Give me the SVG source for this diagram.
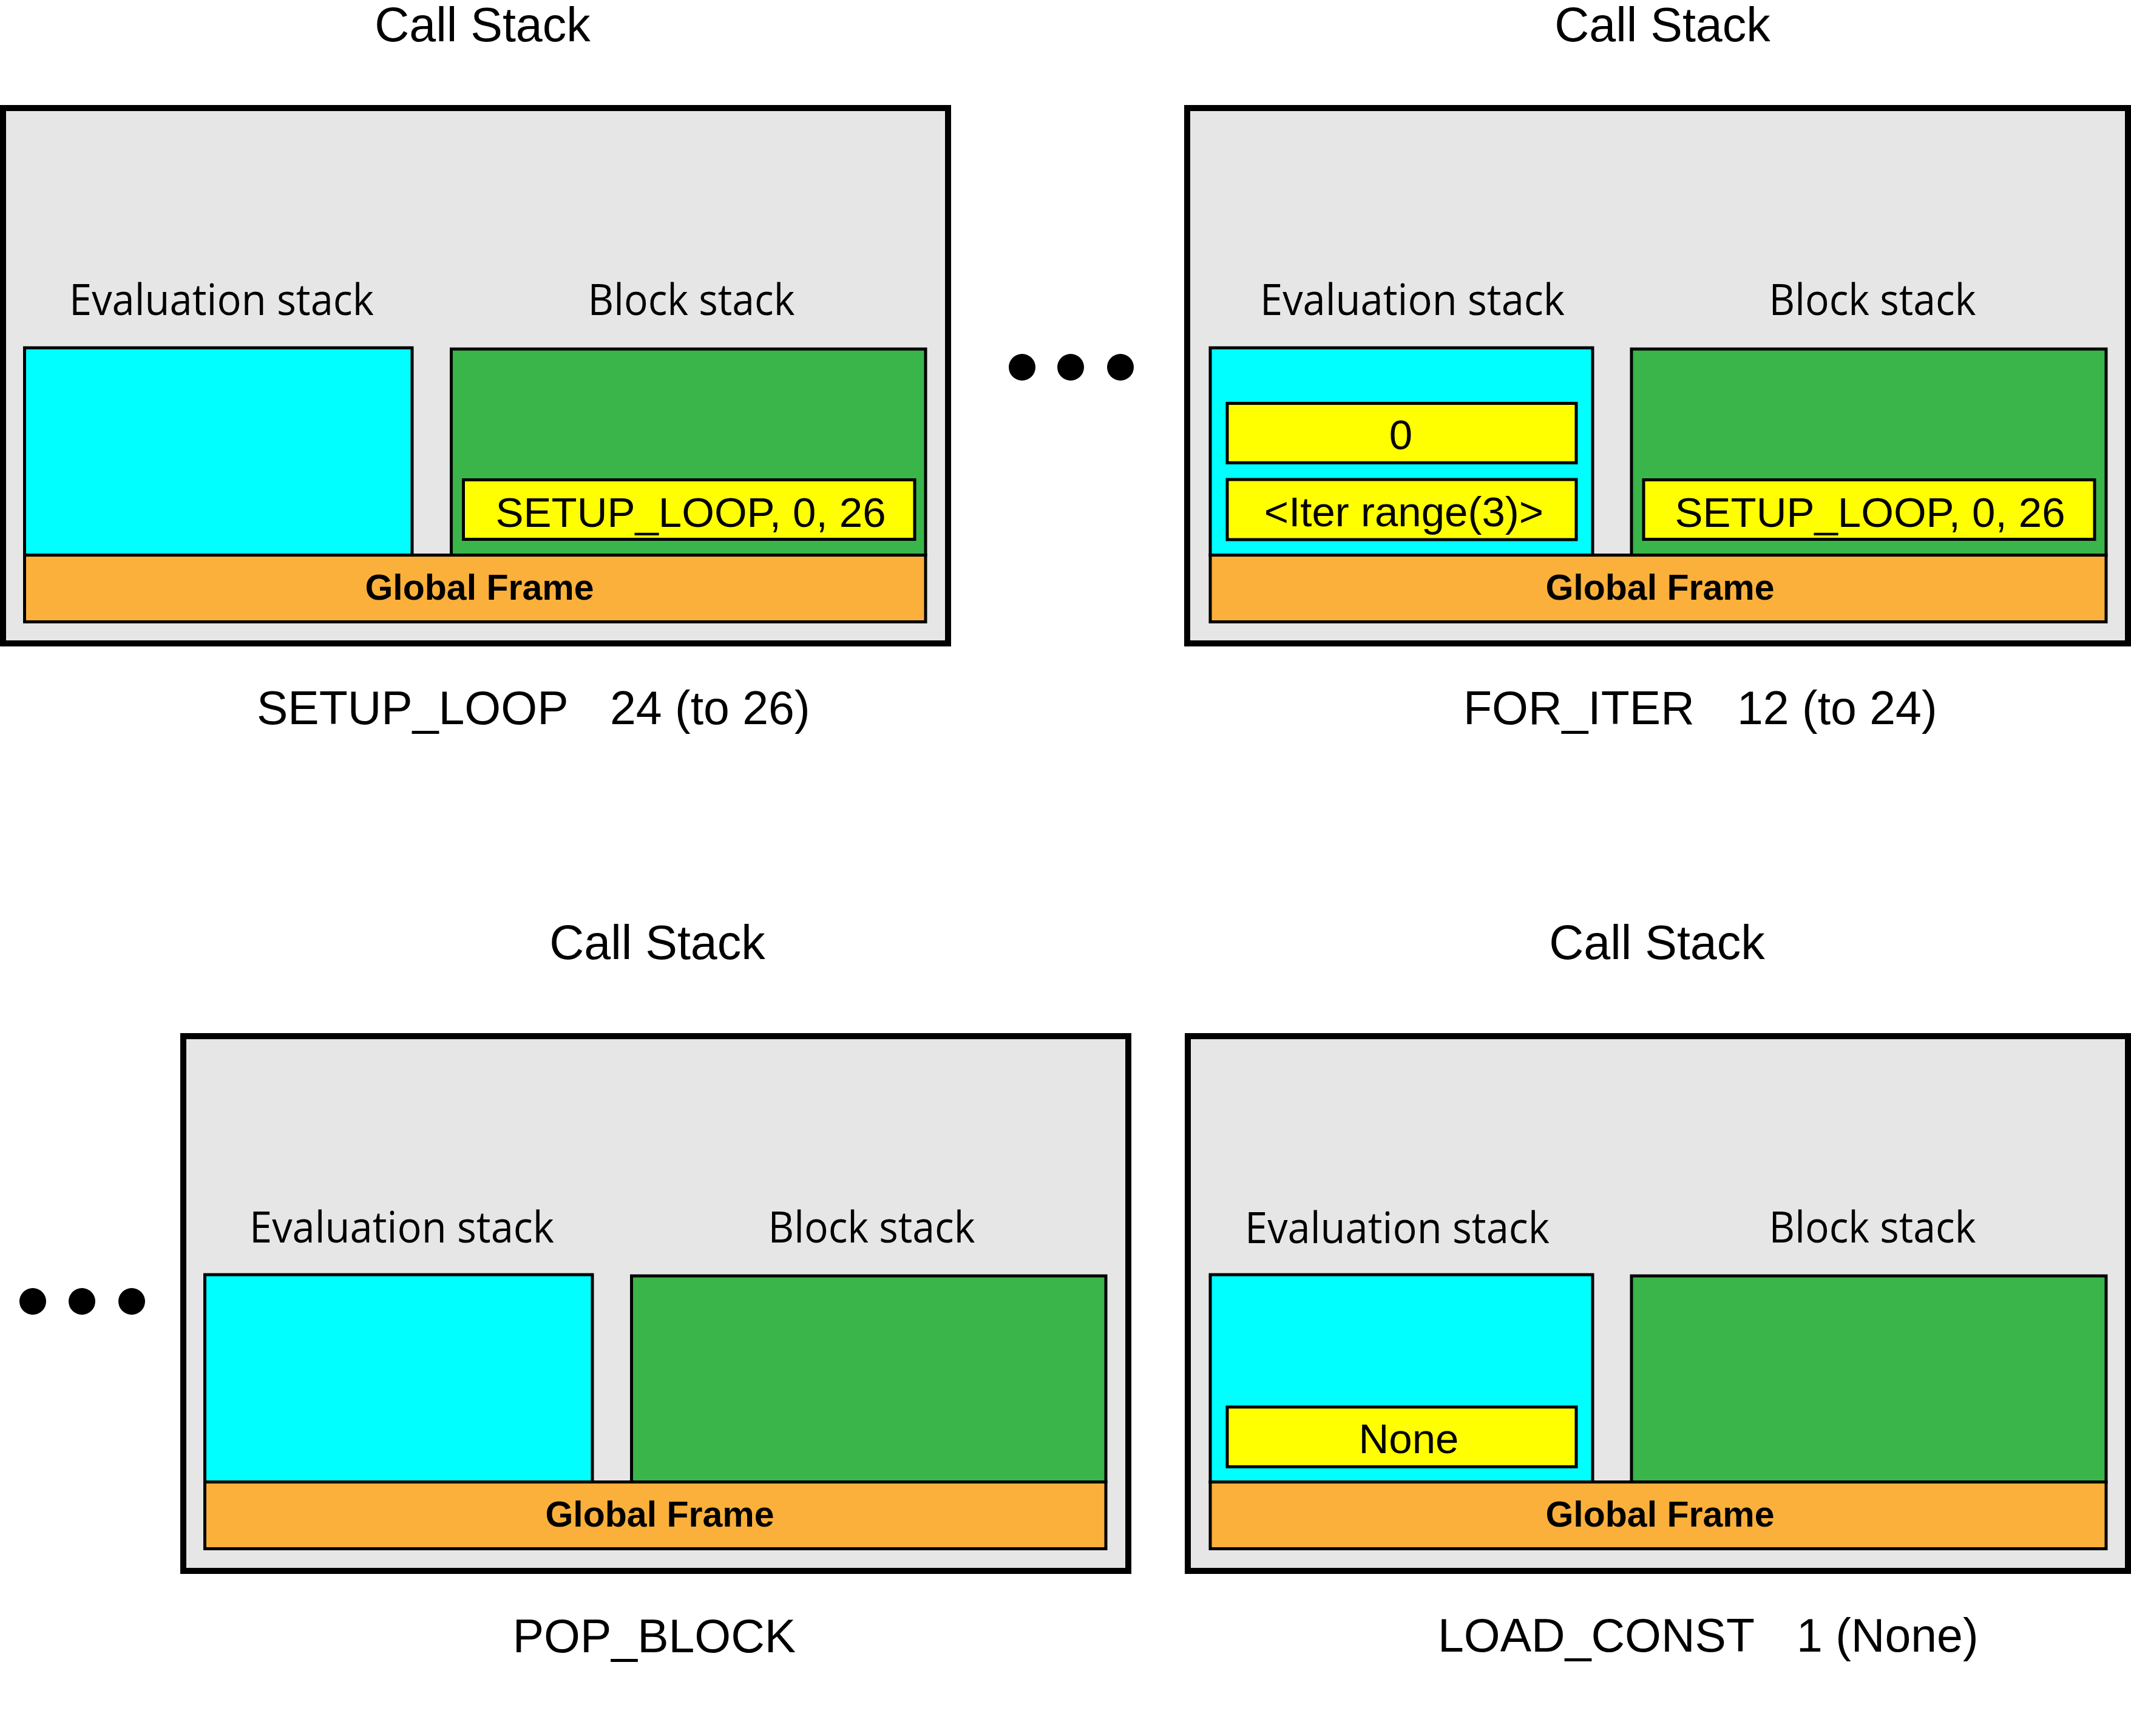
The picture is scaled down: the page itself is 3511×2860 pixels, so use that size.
<svg xmlns="http://www.w3.org/2000/svg" width="3511" height="2860" viewBox="0 0 3511 2860">
<style>
.bg{fill:#ffffff}
.outer{fill:#e6e6e6;stroke:#000;stroke-width:10}
.eval{fill:#00ffff;stroke:#000;stroke-width:5}
.block{fill:#3ab54a;stroke:#000;stroke-width:5}
.glob{fill:#fbb03b;stroke:#000;stroke-width:5}
.item{fill:#ffff00;stroke:#000;stroke-width:5}
.title{font-family:"Liberation Sans",Arial,sans-serif;font-size:79px;fill:#000;text-anchor:middle}
.lbl{font-family:"Open Sans","Noto Sans",sans-serif;font-size:72px;fill:#000;text-anchor:middle}
.itxt{font-family:"Liberation Sans",Arial,sans-serif;font-size:69px;fill:#000;text-anchor:middle}
.gtxt{font-family:"Liberation Sans",Arial,sans-serif;font-size:59px;font-weight:bold;fill:#000;text-anchor:middle}
.cap{font-family:"Liberation Sans",Arial,sans-serif;font-size:77px;fill:#000}
.dot{fill:#000}
</style>
<rect class="bg" x="0" y="0" width="3511" height="2860"/>

<g id="panel-setup-loop">
<text class="title" x="795" y="68">Call Stack</text>
<rect class="outer" x="5" y="178" width="1557" height="882"/>
<text class="lbl" x="365" y="519" textLength="502" lengthAdjust="spacingAndGlyphs">Evaluation stack</text>
<text class="lbl" x="1139" y="519" textLength="341" lengthAdjust="spacingAndGlyphs">Block stack</text>
<rect class="eval" x="40.5" y="573" width="638.5" height="341.5"/>
<rect class="block" x="743.5" y="575" width="781.5" height="339.5"/>
<rect class="item" x="763.5" y="790.5" width="743.5" height="98"/>
<text class="itxt" x="1138" y="868">SETUP_LOOP, 0, 26</text>
<rect class="glob" x="40.5" y="914.5" width="1484.5" height="110"/>
<text class="gtxt" x="790" y="988">Global Frame</text>
<text class="cap" x="423" y="1193" xml:space="preserve">SETUP_LOOP   <tspan x="1005">24 (to 26)</tspan></text>
</g>

<g id="dots-top">
<circle class="dot" cx="1684" cy="605" r="22"/>
<circle class="dot" cx="1764" cy="605" r="22"/>
<circle class="dot" cx="1846" cy="605" r="22"/>
</g>

<g id="panel-for-iter">
<text class="title" x="2739" y="68">Call Stack</text>
<rect class="outer" x="1956" y="178" width="1550" height="882"/>
<text class="lbl" x="2327" y="519" textLength="502" lengthAdjust="spacingAndGlyphs">Evaluation stack</text>
<text class="lbl" x="3085" y="519" textLength="341" lengthAdjust="spacingAndGlyphs">Block stack</text>
<rect class="eval" x="1994" y="573" width="630" height="341.5"/>
<rect class="item" x="2022" y="664.5" width="575" height="98"/>
<text class="itxt" x="2308" y="740">0</text>
<rect class="item" x="2022" y="790" width="575" height="99"/>
<text class="itxt" x="2313" y="867">&lt;Iter range(3)&gt;</text>
<rect class="block" x="2688" y="575" width="782" height="339.5"/>
<rect class="item" x="2708" y="790.5" width="743" height="98"/>
<text class="itxt" x="3081" y="868">SETUP_LOOP, 0, 26</text>
<rect class="glob" x="1994" y="914.5" width="1476" height="110"/>
<text class="gtxt" x="2735" y="988">Global Frame</text>
<text class="cap" x="2411" y="1193" xml:space="preserve">FOR_ITER   <tspan x="2862">12 (to 24)</tspan></text>
</g>

<g id="dots-bottom">
<circle class="dot" cx="54" cy="2144" r="22"/>
<circle class="dot" cx="135" cy="2144" r="22"/>
<circle class="dot" cx="217" cy="2144" r="22"/>
</g>

<g id="panel-pop-block">
<text class="title" x="1083" y="1580">Call Stack</text>
<rect class="outer" x="302" y="1707" width="1557" height="881"/>
<text class="lbl" x="662" y="2047" textLength="502" lengthAdjust="spacingAndGlyphs">Evaluation stack</text>
<text class="lbl" x="1436" y="2047" textLength="341" lengthAdjust="spacingAndGlyphs">Block stack</text>
<rect class="eval" x="337.5" y="2100" width="638.5" height="341.5"/>
<rect class="block" x="1040.5" y="2102" width="781.5" height="339.5"/>
<rect class="glob" x="337.5" y="2441.5" width="1484.5" height="110"/>
<text class="gtxt" x="1087" y="2515">Global Frame</text>
<text class="cap" x="1078" y="2722" text-anchor="middle">POP_BLOCK</text>
</g>

<g id="panel-load-const">
<text class="title" x="2730" y="1580">Call Stack</text>
<rect class="outer" x="1957" y="1707" width="1549" height="881"/>
<text class="lbl" x="2302" y="2048" textLength="502" lengthAdjust="spacingAndGlyphs">Evaluation stack</text>
<text class="lbl" x="3085" y="2047" textLength="341" lengthAdjust="spacingAndGlyphs">Block stack</text>
<rect class="eval" x="1994" y="2100" width="630" height="341.5"/>
<rect class="item" x="2022" y="2318" width="575" height="98.5"/>
<text class="itxt" x="2321" y="2394">None</text>
<rect class="block" x="2688" y="2102" width="782" height="339.5"/>
<rect class="glob" x="1994" y="2441.5" width="1476" height="110"/>
<text class="gtxt" x="2735" y="2515">Global Frame</text>
<text class="cap" x="2369" y="2721" xml:space="preserve">LOAD_CONST   <tspan x="2960">1 (None)</tspan></text>
</g>
</svg>
